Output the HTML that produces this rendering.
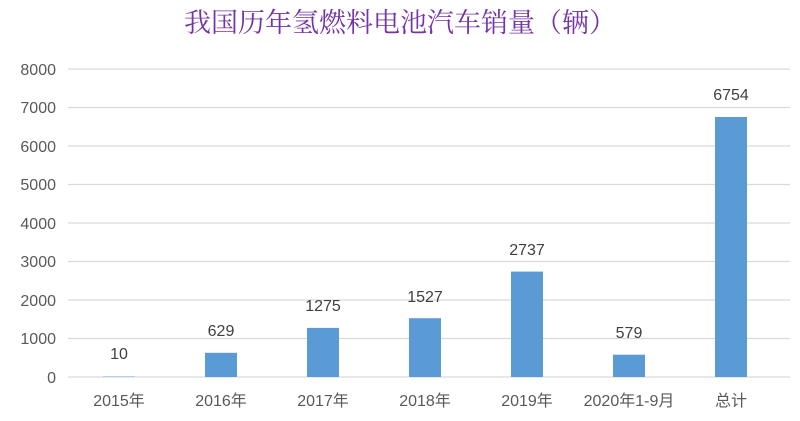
<!DOCTYPE html><html><head><meta charset="utf-8"><style>body{margin:0;background:#fff}svg text{font-family:"Liberation Sans","Noto Sans CJK SC",sans-serif}</style></head><body>
<svg width="800" height="416" xmlns="http://www.w3.org/2000/svg">
<text x="400" y="32" text-anchor="middle" font-size="27" fill="#7434a6" style="font-family:'Noto Serif CJK SC',serif">我国历年氢燃料电池汽车销量（辆）</text>
<g stroke="#d9d9d9" stroke-width="1.3">
<line x1="68" x2="790" y1="69" y2="69"/><line x1="68" x2="790" y1="107.5" y2="107.5"/><line x1="68" x2="790" y1="146" y2="146"/><line x1="68" x2="790" y1="184.5" y2="184.5"/><line x1="68" x2="790" y1="223" y2="223"/><line x1="68" x2="790" y1="261.5" y2="261.5"/><line x1="68" x2="790" y1="300" y2="300"/><line x1="68" x2="790" y1="338.5" y2="338.5"/><line x1="68" x2="790" y1="377" y2="377"/>
</g>
<g font-size="16" fill="#595959" text-anchor="end">
<text x="56" y="75">8000</text><text x="56" y="113">7000</text><text x="56" y="152">6000</text><text x="56" y="190">5000</text><text x="56" y="229">4000</text><text x="56" y="267">3000</text><text x="56" y="306">2000</text><text x="56" y="344">1000</text><text x="56" y="383">0</text>
</g>
<g fill="#5b9bd5">
<rect x="103" y="376.6" width="32" height="0.4"/>
<rect x="205" y="352.8" width="32" height="24.2"/>
<rect x="307" y="327.9" width="32" height="49.1"/>
<rect x="409" y="318.2" width="32" height="58.8"/>
<rect x="511" y="271.6" width="32" height="105.4"/>
<rect x="613" y="354.7" width="32" height="22.3"/>
<rect x="715" y="117" width="32" height="260"/>
</g>
<g font-size="16" fill="#404040" text-anchor="middle">
<text x="119" y="359">10</text><text x="221" y="336">629</text><text x="323" y="311">1275</text><text x="425" y="302">1527</text><text x="527" y="255">2737</text><text x="629" y="338">579</text><text x="731" y="100">6754</text>
</g>
<g font-size="16" fill="#595959" text-anchor="middle">
<text x="119" y="406">2015年</text><text x="221" y="406">2016年</text><text x="323" y="406">2017年</text><text x="425" y="406">2018年</text><text x="527" y="406">2019年</text><text x="629" y="406">2020年1-9月</text><text x="731" y="406">总计</text>
</g>
</svg></body></html>
